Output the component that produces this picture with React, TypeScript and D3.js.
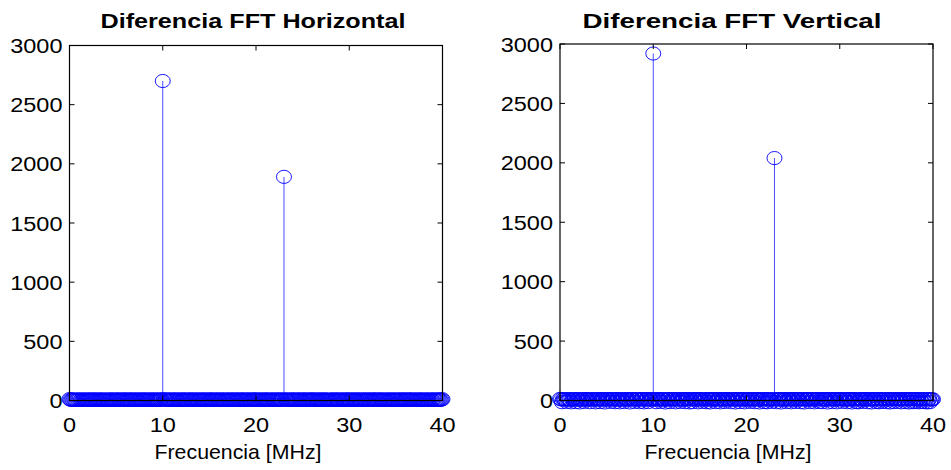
import React from "react";
import * as d3 from "d3";

// Frequency bins (MHz), 0.1 MHz spacing
const freqs: number[] = [
  0, 0.1, 0.2, 0.3, 0.4, 0.5, 0.6, 0.7, 0.8, 0.9, 1, 1.1, 1.2, 1.3, 1.4, 1.5, 1.6, 1.7, 1.8, 1.9,
  2, 2.1, 2.2, 2.3, 2.4, 2.5, 2.6, 2.7, 2.8, 2.9, 3, 3.1, 3.2, 3.3, 3.4, 3.5, 3.6, 3.7, 3.8, 3.9,
  4, 4.1, 4.2, 4.3, 4.4, 4.5, 4.6, 4.7, 4.8, 4.9, 5, 5.1, 5.2, 5.3, 5.4, 5.5, 5.6, 5.7, 5.8, 5.9,
  6, 6.1, 6.2, 6.3, 6.4, 6.5, 6.6, 6.7, 6.8, 6.9, 7, 7.1, 7.2, 7.3, 7.4, 7.5, 7.6, 7.7, 7.8, 7.9,
  8, 8.1, 8.2, 8.3, 8.4, 8.5, 8.6, 8.7, 8.8, 8.9, 9, 9.1, 9.2, 9.3, 9.4, 9.5, 9.6, 9.7, 9.8, 9.9,
  10, 10.1, 10.2, 10.3, 10.4, 10.5, 10.6, 10.7, 10.8, 10.9, 11, 11.1, 11.2, 11.3, 11.4, 11.5, 11.6, 11.7, 11.8, 11.9,
  12, 12.1, 12.2, 12.3, 12.4, 12.5, 12.6, 12.7, 12.8, 12.9, 13, 13.1, 13.2, 13.3, 13.4, 13.5, 13.6, 13.7, 13.8, 13.9,
  14, 14.1, 14.2, 14.3, 14.4, 14.5, 14.6, 14.7, 14.8, 14.9, 15, 15.1, 15.2, 15.3, 15.4, 15.5, 15.6, 15.7, 15.8, 15.9,
  16, 16.1, 16.2, 16.3, 16.4, 16.5, 16.6, 16.7, 16.8, 16.9, 17, 17.1, 17.2, 17.3, 17.4, 17.5, 17.6, 17.7, 17.8, 17.9,
  18, 18.1, 18.2, 18.3, 18.4, 18.5, 18.6, 18.7, 18.8, 18.9, 19, 19.1, 19.2, 19.3, 19.4, 19.5, 19.6, 19.7, 19.8, 19.9,
  20, 20.1, 20.2, 20.3, 20.4, 20.5, 20.6, 20.7, 20.8, 20.9, 21, 21.1, 21.2, 21.3, 21.4, 21.5, 21.6, 21.7, 21.8, 21.9,
  22, 22.1, 22.2, 22.3, 22.4, 22.5, 22.6, 22.7, 22.8, 22.9, 23, 23.1, 23.2, 23.3, 23.4, 23.5, 23.6, 23.7, 23.8, 23.9,
  24, 24.1, 24.2, 24.3, 24.4, 24.5, 24.6, 24.7, 24.8, 24.9, 25, 25.1, 25.2, 25.3, 25.4, 25.5, 25.6, 25.7, 25.8, 25.9,
  26, 26.1, 26.2, 26.3, 26.4, 26.5, 26.6, 26.7, 26.8, 26.9, 27, 27.1, 27.2, 27.3, 27.4, 27.5, 27.6, 27.7, 27.8, 27.9,
  28, 28.1, 28.2, 28.3, 28.4, 28.5, 28.6, 28.7, 28.8, 28.9, 29, 29.1, 29.2, 29.3, 29.4, 29.5, 29.6, 29.7, 29.8, 29.9,
  30, 30.1, 30.2, 30.3, 30.4, 30.5, 30.6, 30.7, 30.8, 30.9, 31, 31.1, 31.2, 31.3, 31.4, 31.5, 31.6, 31.7, 31.8, 31.9,
  32, 32.1, 32.2, 32.3, 32.4, 32.5, 32.6, 32.7, 32.8, 32.9, 33, 33.1, 33.2, 33.3, 33.4, 33.5, 33.6, 33.7, 33.8, 33.9,
  34, 34.1, 34.2, 34.3, 34.4, 34.5, 34.6, 34.7, 34.8, 34.9, 35, 35.1, 35.2, 35.3, 35.4, 35.5, 35.6, 35.7, 35.8, 35.9,
  36, 36.1, 36.2, 36.3, 36.4, 36.5, 36.6, 36.7, 36.8, 36.9, 37, 37.1, 37.2, 37.3, 37.4, 37.5, 37.6, 37.7, 37.8, 37.9,
  38, 38.1, 38.2, 38.3, 38.4, 38.5, 38.6, 38.7, 38.8, 38.9, 39, 39.1, 39.2, 39.3, 39.4, 39.5, 39.6, 39.7, 39.8, 39.9,
  40,
];

const horizontalDiff: number[] = [
  12, 7, 5, 8, 6, 9, 7, 5, 6, 8, 7, 9, 5, 6, 8, 7, 6, 9, 5, 7,
  8, 6, 7, 9, 5, 7, 8, 6, 9, 7, 5, 8, 6, 7, 9, 6, 8, 5, 7, 6,
  9, 5, 7, 6, 8, 7, 9, 6, 5, 8, 7, 6, 9, 8, 5, 7, 6, 8, 7, 9,
  6, 8, 5, 7, 9, 6, 7, 8, 5, 9, 6, 7, 8, 6, 5, 9, 7, 8, 6, 7,
  7, 9, 6, 8, 5, 7, 6, 9, 8, 6, 7, 5, 8, 9, 6, 7, 5, 8, 6, 10,
  2700, 10, 7, 6, 8, 5, 9, 7, 6, 8, 5, 7, 9, 6, 8, 7, 5, 6, 9, 8,
  5, 7, 8, 6, 9, 7, 5, 8, 6, 7, 9, 8, 6, 5, 7, 9, 6, 8, 7, 5,
  8, 6, 9, 7, 5, 8, 7, 6, 9, 5, 7, 8, 6, 9, 7, 5, 8, 6, 7, 9,
  7, 5, 6, 8, 9, 6, 7, 5, 8, 7, 6, 9, 5, 8, 7, 6, 9, 7, 5, 8,
  6, 9, 7, 5, 8, 6, 9, 7, 8, 5, 6, 7, 9, 8, 6, 5, 7, 8, 9, 6,
  9, 7, 5, 8, 6, 7, 9, 6, 5, 8, 7, 9, 6, 7, 8, 5, 6, 9, 7, 8,
  5, 8, 6, 7, 9, 6, 8, 7, 5, 9, 1890, 9, 7, 6, 8, 5, 7, 9, 6, 8,
  7, 6, 9, 5, 8, 7, 6, 8, 9, 5, 7, 6, 8, 9, 7, 5, 6, 8, 7, 9,
  8, 5, 7, 9, 6, 8, 5, 7, 6, 9, 8, 7, 5, 6, 9, 8, 7, 6, 5, 7,
  6, 8, 9, 7, 5, 6, 8, 9, 7, 6, 5, 8, 7, 9, 6, 5, 8, 7, 9, 6,
  9, 6, 5, 8, 7, 9, 6, 5, 8, 7, 9, 6, 8, 5, 7, 6, 9, 8, 5, 7,
  7, 8, 6, 9, 5, 7, 8, 6, 9, 8, 5, 7, 6, 8, 9, 7, 5, 6, 8, 7,
  5, 9, 7, 6, 8, 5, 9, 7, 6, 8, 7, 5, 9, 6, 7, 8, 6, 9, 5, 8,
  8, 7, 5, 9, 6, 8, 7, 9, 5, 6, 8, 7, 6, 9, 5, 7, 8, 6, 9, 7,
  6, 5, 8, 7, 9, 6, 5, 8, 7, 6, 9, 8, 5, 7, 6, 9, 8, 7, 6, 8,
  11,
];

const verticalDiff: number[] = [
  14, 9, -14, 8, 11, 7, 10, -12, 9, 12, 8, 6, -15, 10, 9, 11, 7, -13, 8, 12,
  10, -16, 9, 7, 11, 8, -12, 12, 9, 10, 6, 11, -14, 8, 9, 12, 7, 10, -15, 9,
  8, 11, 10, -13, 7, 12, 9, 8, -16, 10, 11, 7, 9, 12, -12, 8, 10, 9, 11, -14,
  7, 12, 8, 10, -15, 9, 11, 6, 10, -13, 12, 8, 9, 11, 7, -16, 10, 9, 12, 8,
  -12, 11, 9, 7, 10, -14, 8, 12, 9, 11, -15, 7, 10, 8, 12, -13, 9, 11, 6, 10,
  2920, 12, 8, -14, 10, 9, 11, 7, -12, 12, 9, 10, 8, -16, 11, 7, 9, 12, -13, 10,
  9, 8, 11, 10, -15, 7, 12, 9, 10, -12, 8, 11, 9, 7, -14, 12, 10, 8, 11, -16,
  10, 9, -13, 12, 8, 11, 7, 10, -15, 9, 12, 8, 10, -12, 11, 9, 7, -14, 10, 12,
  8, -16, 11, 9, 10, 7, 12, -13, 8, 10, 11, 9, -15, 12, 7, 10, 8, -12, 11, 9,
  12, 10, 7, -14, 9, 11, 8, 10, -16, 12, 9, 7, 11, -13, 10, 8, 12, 9, -15, 7,
  11, 8, 10, 12, -12, 9, 7, 11, 10, -14, 8, 12, 9, 10, -16, 7, 11, 8, 12, -13,
  9, 12, -15, 10, 8, 11, 7, -12, 9, 10, 2040, 11, -14, 8, 12, 9, 10, -16, 7, 11,
  10, 7, 12, -13, 9, 11, 8, 10, -15, 12, 9, 7, 11, -12, 10, 8, 12, 9, -14, 11,
  8, 10, -16, 12, 9, 7, 11, 10, -13, 8, 12, 9, 10, -15, 7, 11, 9, 12, -12, 10,
  11, -14, 9, 8, 12, 10, 7, -16, 11, 9, 10, 12, -13, 8, 11, 9, 7, -15, 10, 12,
  9, 12, 10, -12, 8, 11, 9, 7, -14, 12, 10, 8, 11, -16, 9, 12, 10, 7, -13, 11,
  -15, 10, 8, 12, 9, -12, 11, 7, 10, 12, -14, 9, 8, 11, -16, 10, 12, 9, 7, -13,
  12, 9, -15, 11, 10, 8, -12, 12, 9, 7, -14, 11, 10, 8, -16, 12, 9, 11, -13, 10,
  8, 11, -12, 10, 12, 9, -15, 7, 11, 10, -13, 12, 8, 9, -16, 11, 10, 12, -14, 9,
  10, -13, 12, 8, 11, -15, 9, 10, -12, 12, 7, -14, 11, 9, -16, 10, 12, -13, 8, 9,
  10,
];

const xTicks: number[] = [0, 10, 20, 30, 40];
const yTicks: number[] = [0, 500, 1000, 1500, 2000, 2500, 3000];
const titles: string[] = ["Diferencia FFT Horizontal", "Diferencia FFT Vertical"];
const xLabelText = "Frecuencia [MHz]";

const FONT = "Arial, 'Liberation Sans', sans-serif";
const BLUE = "#0000ff";
const SX = 1.12;

type PanelProps = {
  values: number[];
  title: string;
  left: number;
  right: number;
  top: number;
  bottom: number;
  titleX: number;
  titleW: number;
  xLabelX: number;
};

function Panel({ values, title, left, right, top, bottom, titleX, titleW, xLabelX }: PanelProps) {
  const x = d3.scaleLinear().domain([0, 40]).range([left, right]);
  const y = d3.scaleLinear().domain([0, 3000]).range([bottom, top]);
  const tickLen = 5;
  return (
    <g>
      {freqs.map((f, i) => (
        <line
          key={"s" + i}
          x1={x(f)}
          x2={x(f)}
          y1={y(0)}
          y2={y(values[i])}
          stroke="#4d4dff"
          strokeWidth={1}
        />
      ))}
      <line x1={x(0)} x2={x(40)} y1={y(0)} y2={y(0)} stroke="#000" strokeWidth={1} />
      {freqs.map((f, i) => (
        <ellipse
          key={"m" + i}
          cx={x(f)}
          cy={y(values[i])}
          rx={7.5}
          ry={6.6}
          fill="none"
          stroke={BLUE}
          strokeWidth={0.9}
        />
      ))}
      <rect x={left} y={top} width={right - left} height={bottom - top} fill="none" stroke="#000" strokeWidth={1.2} />
      {yTicks.map((t) => (
        <g key={"yt" + t}>
          <line x1={left} x2={left + tickLen} y1={y(t)} y2={y(t)} stroke="#000" />
          <line x1={right} x2={right - tickLen} y1={y(t)} y2={y(t)} stroke="#000" />
          <text
            transform={`translate(${left - 7},${y(t)}) scale(${SX},1)`}
            dy="0.36em"
            textAnchor="end"
            fontFamily={FONT}
            fontSize={21}
            fill="#000"
          >
            {t}
          </text>
        </g>
      ))}
      {xTicks.map((t) => (
        <g key={"xt" + t}>
          <line x1={x(t)} x2={x(t)} y1={top} y2={top + tickLen} stroke="#000" />
          <line x1={x(t)} x2={x(t)} y1={bottom} y2={bottom - tickLen} stroke="#000" />
          <text
            transform={`translate(${x(t)},${bottom + 31}) scale(${SX},1)`}
            textAnchor="middle"
            fontFamily={FONT}
            fontSize={21}
            fill="#000"
          >
            {t}
          </text>
        </g>
      ))}
      <text
        x={titleX}
        y={28}
        textAnchor="middle"
        fontFamily={FONT}
        fontWeight="bold"
        fontSize={20}
        textLength={titleW}
        lengthAdjust="spacingAndGlyphs"
        fill="#000"
      >
        {title}
      </text>
      <text
        x={xLabelX}
        y={459}
        textAnchor="middle"
        fontFamily={FONT}
        fontSize={21}
        textLength={167}
        lengthAdjust="spacingAndGlyphs"
        fill="#000"
      >
        {xLabelText}
      </text>
    </g>
  );
}

export default function App() {
  return (
    <svg
      width={951}
      height={470}
      style={{ position: "absolute", left: 0, top: 0, background: "#fff" }}
    >
      <rect x={0} y={0} width={951} height={470} fill="#fff" />
      <Panel
        values={horizontalDiff}
        title={titles[0]}
        left={69.5}
        right={442.5}
        top={45.5}
        bottom={400.5}
        titleX={253}
        titleW={305}
        xLabelX={238}
      />
      <Panel
        values={verticalDiff}
        title={titles[1]}
        left={560}
        right={933}
        top={44}
        bottom={400.5}
        titleX={732}
        titleW={299}
        xLabelX={728}
      />
    </svg>
  );
}
